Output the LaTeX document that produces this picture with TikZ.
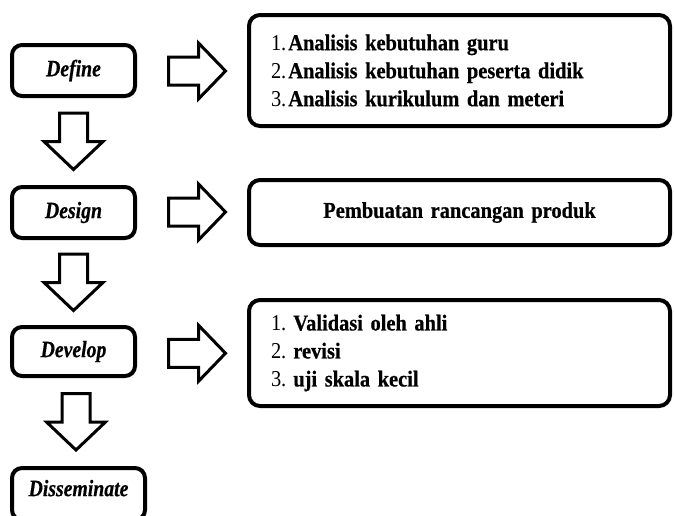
\documentclass[tikz,border=0pt]{standalone}
\usepackage{fontspec}
\setmainfont[FakeStretch=0.9, WordSpace=0.75, BoldFeatures={FakeBold=0.6}]{Liberation Serif}
\newfontfamily\labelfont[FakeStretch=0.84, BoldItalicFeatures={FakeBold=0.5}]{Liberation Serif}
\usetikzlibrary{calc}
\tikzset{
  stagebox/.style={draw=black, line width=4pt, rounded corners=10pt, fill=white,
    minimum width=123pt, minimum height=51pt, inner sep=0pt,
    font=\labelfont\fontsize{23.5}{28}\selectfont\bfseries\itshape},
  infobox/.style={draw=black, line width=4pt, rounded corners=11pt, fill=white,
    inner xsep=22pt, inner ysep=0pt, text width=377pt,
    font=\fontsize{22.7}{28}\selectfont},
  blockline/.style={draw=black, line width=3pt, fill=white, line join=miter},
  pics/downblock/.style={code={
    \path[blockline] (-14,-28.5) -- (14,-28.5) -- (14,0) -- (29.5,0) -- (0,28) -- (-29.5,0) -- (-14,0) -- cycle;}},
  pics/rightblock/.style={code={
    \path[blockline] (-29,-14) -- (1,-14) -- (1,-28) -- (28,0) -- (1,28) -- (1,14) -- (-29,14) -- cycle;}}
}
\begin{document}
\begin{tikzpicture}[x=1pt,y=-1pt]
\useasboundingbox (0,0) rectangle (674,515);
\clip (0,0) rectangle (674,515);

% left stage boxes
\node[stagebox] (define) at (73.5,70.5) {Define};
\node[stagebox] (design) at (73.5,212.5) {Design};
\node[stagebox, minimum height=49pt] (develop) at (73.5,351.5) {Develop};
\node[stagebox, minimum width=133pt, minimum height=52pt, text depth=12pt] (dissem) at (78.5,494) {Disseminate};

% right info boxes
\node[infobox, align=left, minimum height=111pt] (boxA) at (459.5,70.5)
  {1.\kern2pt\textbf{Analisis kebutuhan guru}\\
   2.\kern2pt\textbf{Analisis kebutuhan peserta didik}\\
   3.\kern2pt\textbf{Analisis kurikulum dan meteri}};
\node[infobox, align=center, minimum height=65pt] (boxB) at (459.5,212.5)
  {\textbf{Pembuatan rancangan produk}};
\node[infobox, align=left, minimum height=106pt] (boxC) at (459.5,353)
  {1.\hspace{7pt}\textbf{Validasi oleh ahli}\\
   2.\hspace{7pt}\textbf{revisi}\\
   3.\hspace{7pt}\textbf{uji skala kecil}};

% down block arrows between stages
\pic at ($(define.south)!0.5!(design.north)$) {downblock};
\pic at ($(design.south)!0.5!(develop.north)$) {downblock};
\pic at ($(develop.south)!0.5!(dissem.north)$) {downblock};

% right block arrows from stages to info boxes
\pic at ($(define.east)!0.5!(boxA.west)+(5.5,0.5)$) {rightblock};
\pic at ($(design.east)!0.5!(boxB.west)+(5.5,-0.5)$) {rightblock};
\pic at ($(develop.east)!0.5!(boxC.west)+(5.5,1)$) {rightblock};
\end{tikzpicture}
\end{document}
